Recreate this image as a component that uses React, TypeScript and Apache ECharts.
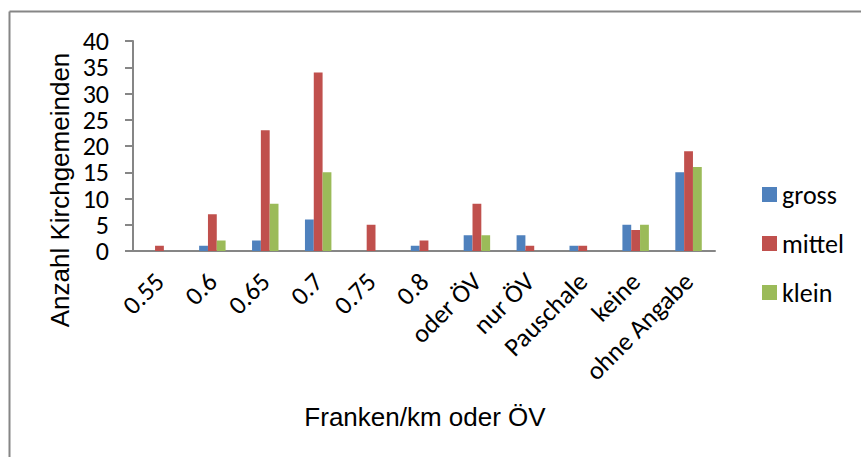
import React, { useEffect, useRef } from "react";
import * as echarts from "echarts";

const categories = ["0.55", "0.6", "0.65", "0.7", "0.75", "0.8", "oder ÖV", "nur ÖV", "Pauschale", "keine", "ohne Angabe"];
const gross = [0, 1, 2, 6, 0, 1, 3, 3, 1, 5, 15];
const mittel = [1, 7, 23, 34, 5, 2, 9, 1, 1, 4, 19];
const klein = [0, 2, 9, 15, 0, 0, 3, 0, 0, 5, 16];
const seriesNames = ["gross", "mittel", "klein"];
const colors = ["#4F81BD", "#C0504D", "#9BBB59"];
const yTitle = "Anzahl Kirchgemeinden";
const xTitle = "Franken/km oder ÖV";

const labelFont = "Carlito, Lato, sans-serif";
const titleFont = "'Liberation Sans', Arial, sans-serif";

export default function App() {
  const ref = useRef<HTMLDivElement>(null);
  useEffect(() => {
    if (!ref.current) return;
    const chart = echarts.init(ref.current, undefined, { renderer: "svg" });
    const values = [gross, mittel, klein];
    chart.setOption({
      animation: false,
      backgroundColor: "#fff",
      grid: { left: 133, right: 146, top: 41, bottom: 206, containLabel: false },
      legend: {
        orient: "vertical",
        left: 757,
        top: 176,
        icon: "rect",
        itemWidth: 15,
        itemHeight: 15,
        itemGap: 22,
        textStyle: { fontSize: 26, fontFamily: labelFont, color: "#000", lineHeight: 27 },
        data: seriesNames,
      },
      xAxis: {
        type: "category",
        data: categories,
        axisLine: { lineStyle: { color: "#868686", width: 2 } },
        axisTick: { show: false },
        axisLabel: { rotate: 45, margin: 26, fontSize: 26, lineHeight: 20, fontFamily: labelFont, color: "#000", interval: 0 },
      },
      yAxis: {
        type: "value",
        min: 0,
        max: 40,
        interval: 5,
        axisLine: { show: true, lineStyle: { color: "#868686", width: 2 } },
        axisTick: { show: true, length: 8, lineStyle: { color: "#868686", width: 2 } },
        axisLabel: { margin: 24, fontSize: 26, lineHeight: 20, fontFamily: labelFont, color: "#000" },
        splitLine: { show: false },
      },
      series: seriesNames.map((name, i) => ({
        name,
        type: "bar",
        data: values[i],
        barGap: "0%",
        barCategoryGap: "50%",
        itemStyle: { color: colors[i] },
      })),
      graphic: [
        { type: "line", shape: { x1: 9.5, y1: 11.5, x2: 861, y2: 11.5 }, style: { stroke: "#868686", lineWidth: 2 } },
        { type: "line", shape: { x1: 9.5, y1: 11.5, x2: 9.5, y2: 457 }, style: { stroke: "#868686", lineWidth: 2 } },
        {
          type: "text",
          x: 60,
          y: 190,
          rotation: Math.PI / 2,
          style: {
            text: yTitle,
            fontSize: 26,
            fontFamily: titleFont,
            fill: "#000",
            align: "center",
            verticalAlign: "middle",
            textAlign: "center",
            textVerticalAlign: "middle",
          },
        },
        {
          type: "text",
          x: 425,
          y: 417,
          style: {
            text: xTitle,
            fontSize: 26,
            fontFamily: titleFont,
            fill: "#000",
            align: "center",
            verticalAlign: "middle",
            textAlign: "center",
            textVerticalAlign: "middle",
          },
        },
      ],
    });
    return () => chart.dispose();
  }, []);
  return <div ref={ref} style={{ position: "fixed", left: 0, top: 0, width: 861, height: 457 }} />;
}
